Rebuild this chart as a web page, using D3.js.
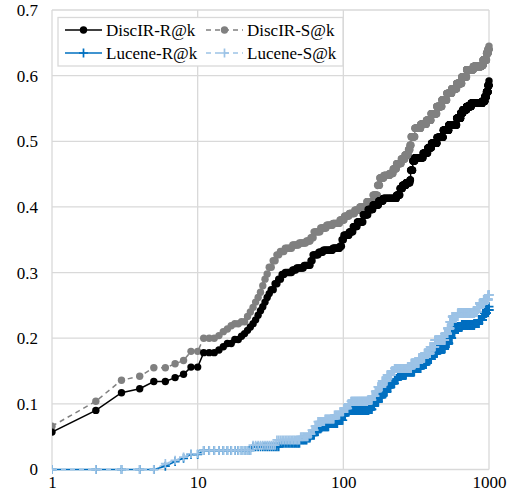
<!DOCTYPE html>
<html>
<head>
<meta charset="utf-8">
<script src="https://cdn.jsdelivr.net/npm/d3@7"></script>
<style>
  html, body { margin: 0; padding: 0; background: #fff; }
  svg { display: block; }
  text { font-family: "Liberation Serif", "Times New Roman", serif; fill: #000; }
</style>
</head>
<body>
<svg id="chart" width="517" height="499"></svg>
<script>
// Recall / success at cutoff k. Each series is a step function given by the
// cutoffs where the value changes: [k, value] holds until the next cutoff.
const cutoffRange = [1, 1000];

const discirRSteps = [
  [1,0.057],[2,0.090],[3,0.117],[4,0.123],[5,0.134],[7,0.140],[8,0.145],[9,0.156],
  [11,0.178],[14,0.182],[15,0.187],[16,0.192],[18,0.198],[20,0.203],[21,0.207],
  [22,0.212],[23,0.217],[24,0.222],[25,0.228],[26,0.235],[27,0.242],[28,0.248],
  [29,0.255],[30,0.262],[31,0.268],[32,0.274],[34,0.283],[36,0.290],[38,0.297],
  [40,0.300],[45,0.304],[48,0.307],[54,0.311],[60,0.318],[62,0.327],[68,0.331],
  [73,0.334],[85,0.337],[95,0.340],[98,0.350],[101,0.357],[110,0.362],[117,0.370],
  [125,0.377],[137,0.388],[148,0.396],[160,0.403],[175,0.409],[188,0.413],
  [232,0.418],[245,0.428],[255,0.433],[270,0.437],[287,0.441],[290,0.456],
  [300,0.470],[310,0.475],[353,0.482],[380,0.490],[403,0.497],[440,0.506],
  [485,0.517],[530,0.525],[600,0.535],[640,0.543],[662,0.548],[702,0.553],
  [755,0.558],[900,0.561],[937,0.568],[960,0.575],[985,0.585],[1000,0.592]
];

const discirSSteps = [
  [1,0.066],[2,0.104],[3,0.136],[4,0.142],[5,0.155],[7,0.161],[8,0.166],[9,0.180],
  [11,0.200],[14,0.204],[15,0.210],[16,0.214],[17,0.219],[18,0.222],[20,0.225],
  [22,0.233],[23,0.240],[24,0.247],[25,0.255],[26,0.262],[27,0.270],[28,0.280],
  [29,0.290],[30,0.298],[31,0.308],[33,0.318],[35,0.327],[37,0.332],[40,0.337],
  [45,0.342],[50,0.345],[56,0.348],[60,0.353],[63,0.362],[70,0.368],[77,0.372],
  [85,0.375],[95,0.380],[102,0.386],[110,0.390],[120,0.395],[130,0.400],
  [145,0.408],[160,0.418],[172,0.433],[178,0.444],[190,0.448],[208,0.451],
  [220,0.458],[232,0.466],[250,0.473],[265,0.479],[280,0.487],[287,0.494],
  [292,0.507],[310,0.520],[340,0.526],[372,0.532],[400,0.542],[438,0.553],
  [475,0.563],[513,0.573],[555,0.580],[600,0.588],[650,0.598],[702,0.609],
  [780,0.614],[886,0.616],[911,0.624],[962,0.634],[985,0.640],[1000,0.645]
];

const luceneRSteps = [
  [1,0],[6,0.005],[7,0.012],[8,0.017],[9,0.023],[11,0.029],[24,0.0345],[37,0.040],
  [51,0.045],[57,0.048],[60,0.052],[64,0.058],[68,0.062],[71,0.065],[80,0.070],
  [92,0.075],[100,0.082],[104,0.088],[107,0.090],[150,0.0915],[158,0.097],
  [164,0.103],[175,0.110],[185,0.118],[200,0.125],[212,0.131],[225,0.137],
  [237,0.144],[270,0.149],[308,0.154],[340,0.160],[370,0.168],[402,0.177],
  [440,0.184],[497,0.192],[530,0.200],[555,0.208],[580,0.217],[650,0.220],
  [794,0.2225],[850,0.228],[900,0.234],[930,0.238],[960,0.243],[1000,0.248]
];

const luceneSSteps = [
  [1,0],[6,0.009],[7,0.014],[8,0.019],[9,0.024],[11,0.029],[24,0.037],[35,0.045],
  [51,0.050],[58,0.054],[61,0.060],[64,0.066],[67,0.073],[75,0.077],[87,0.083],
  [95,0.088],[101,0.093],[108,0.100],[113,0.104],[147,0.106],[158,0.112],
  [166,0.119],[173,0.126],[185,0.135],[200,0.144],[215,0.150],[225,0.154],
  [293,0.162],[330,0.170],[361,0.177],[395,0.187],[425,0.197],[497,0.207],
  [520,0.215],[540,0.225],[560,0.233],[610,0.238],[794,0.240],[830,0.247],
  [862,0.253],[920,0.259],[990,0.266]
];

const xTickValues = [1, 10, 100, 1000];
const yTickValues = [0, 0.1, 0.2, 0.3, 0.4, 0.5, 0.6, 0.7];

const seriesNames = ["DiscIR-R@k", "DiscIR-S@k", "Lucene-R@k", "Lucene-S@k"];

// ---- layout ----
const svg = d3.select("#chart");
const plot = { left: 52, right: 489, top: 10, bottom: 469.5 };

const x = d3.scaleLog().domain(cutoffRange).range([plot.left, plot.right]);
const y = d3.scaleLinear().domain([0, 0.7]).range([plot.bottom, plot.top]);

// expand a step list to one point per integer cutoff
function expand(steps) {
  const pts = [];
  let i = 0;
  for (let k = cutoffRange[0]; k <= cutoffRange[1]; k++) {
    while (i + 1 < steps.length && steps[i + 1][0] <= k) i++;
    pts.push({ k, v: steps[i][1] });
  }
  return pts;
}

// ---- grid ----
const grid = svg.append("g").attr("stroke", "#d9d9d9").attr("stroke-width", 1.3);
yTickValues.forEach(t => {
  grid.append("line")
    .attr("x1", plot.left).attr("x2", plot.right)
    .attr("y1", y(t)).attr("y2", y(t));
});
xTickValues.forEach(t => {
  grid.append("line")
    .attr("x1", x(t)).attr("x2", x(t))
    .attr("y1", plot.top).attr("y2", plot.bottom);
});

// ---- axes (labels only; grid lines above act as the frame) ----
const yAxis = d3.axisLeft(y).tickValues(yTickValues)
  .tickFormat(d => d === 0 ? "0" : d3.format(".1f")(d))
  .tickSize(0).tickPadding(14);
svg.append("g").attr("transform", `translate(${plot.left},0)`).call(yAxis)
  .call(g => g.select(".domain").remove())
  .selectAll("text").attr("font-size", 17)
  .attr("font-family", "Liberation Serif, Times New Roman, serif");

const xAxis = d3.axisBottom(x).tickValues(xTickValues)
  .tickFormat(d3.format("d")).tickSize(0).tickPadding(6);
svg.append("g").attr("transform", `translate(0,${plot.bottom})`).call(xAxis)
  .call(g => g.select(".domain").remove())
  .selectAll("text").attr("font-size", 17)
  .attr("font-family", "Liberation Serif, Times New Roman, serif");

// ---- series ----
svg.append("clipPath").attr("id", "plotClip")
  .append("rect").attr("x", plot.left).attr("y", 0)
  .attr("width", 517 - plot.left).attr("height", 499);

const styles = {
  "DiscIR-R@k": { color: "#000000", dash: null, marker: "circle" },
  "DiscIR-S@k": { color: "#808080", dash: "5,4", marker: "circle" },
  "Lucene-R@k": { color: "#0070C0", dash: null, marker: "plus" },
  "Lucene-S@k": { color: "#9DC3E6", dash: "5,4", marker: "plus" }
};

const seriesData = {
  "DiscIR-R@k": expand(discirRSteps),
  "DiscIR-S@k": expand(discirSSteps),
  "Lucene-R@k": expand(luceneRSteps),
  "Lucene-S@k": expand(luceneSSteps)
};

const line = d3.line().x(d => x(d.k)).y(d => y(d.v));
const plusPath = "M-4.5,0H4.5M0,-4.5V4.5";
const circleR = 3.7;

function drawMarker(sel, st) {
  if (st.marker === "circle") {
    sel.append("circle").attr("r", circleR).attr("fill", st.color);
  } else {
    sel.append("path").attr("d", plusPath)
      .attr("stroke", st.color).attr("stroke-width", 1.7).attr("fill", "none");
  }
}

const seriesLayer = svg.append("g").attr("clip-path", "url(#plotClip)");
const drawOrder = ["DiscIR-S@k", "DiscIR-R@k", "Lucene-R@k", "Lucene-S@k"];
drawOrder.forEach(name => {
  const st = styles[name];
  const data = seriesData[name];
  const g = seriesLayer.append("g");
  g.append("path").datum(data).attr("d", line)
    .attr("fill", "none").attr("stroke", st.color).attr("stroke-width", 1.5)
    .attr("stroke-dasharray", st.dash);
  g.selectAll("g.pt").data(data).join("g").attr("class", "pt")
    .attr("transform", d => `translate(${x(d.k)},${y(d.v)})`)
    .each(function () { drawMarker(d3.select(this), st); });
});

// ---- legend ----
const legend = svg.append("g");
legend.append("rect").attr("x", 58).attr("y", 17.5).attr("width", 285).attr("height", 48.5)
  .attr("fill", "#fff").attr("stroke", "#d9d9d9").attr("stroke-width", 1.3);
const legendPos = [
  { name: "DiscIR-R@k", x: 65, y: 30 },
  { name: "DiscIR-S@k", x: 206, y: 30 },
  { name: "Lucene-R@k", x: 65, y: 53 },
  { name: "Lucene-S@k", x: 206, y: 53 }
];
legendPos.forEach(p => {
  const st = styles[p.name];
  const item = legend.append("g").attr("transform", `translate(${p.x},${p.y})`);
  item.append("line").attr("x1", 0).attr("x2", 37).attr("y1", 0).attr("y2", 0)
    .attr("stroke", st.color).attr("stroke-width", 1.5).attr("stroke-dasharray", st.dash);
  drawMarker(item.append("g").attr("transform", "translate(18.5,0)"), st);
  item.append("text").attr("x", 41).attr("y", 0).attr("dy", "0.35em")
    .attr("font-size", 17).text(p.name);
});
</script>
</body>
</html>
